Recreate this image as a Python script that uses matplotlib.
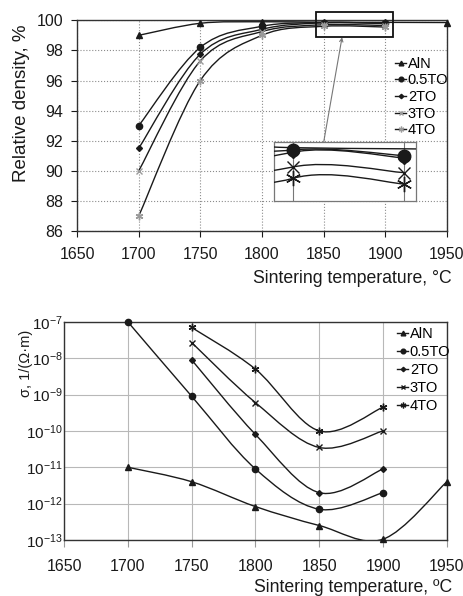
import numpy as np
import matplotlib
matplotlib.use("Agg")
import matplotlib.pyplot as plt
from matplotlib.path import Path
from matplotlib.patches import PathPatch, Rectangle, ConnectionPatch
from matplotlib.lines import Line2D
from matplotlib.ticker import FixedLocator, LogFormatterMathtext

plt.rcParams['font.family'] = ['Liberation Sans', 'DejaVu Sans']
plt.rcParams['mathtext.default'] = 'regular'

# ---- data: relative density (top) ----
temps_den = {
    'AlN': [1700, 1750, 1800, 1850, 1900, 1950],
    '0.5TO': [1700, 1750, 1800, 1850, 1900],
    '2TO': [1700, 1750, 1800, 1850, 1900],
    '3TO': [1700, 1750, 1800, 1850, 1900],
    '4TO': [1700, 1750, 1800, 1850, 1900],
}
density = {
    'AlN': [99.0, 99.8, 99.9, 99.87, 99.86, 99.85],
    '0.5TO': [93.0, 98.2, 99.6, 99.85, 99.80],
    '2TO': [91.5, 97.75, 99.4, 99.83, 99.78],
    '3TO': [90.0, 97.3, 99.25, 99.70, 99.65],
    '4TO': [87.0, 96.0, 99.0, 99.60, 99.55],
}

# ---- data: conductivity (bottom) ----
temps_sig = {
    'AlN': [1700, 1750, 1800, 1850, 1900, 1950],
    '0.5TO': [1700, 1750, 1800, 1850, 1900],
    '2TO': [1750, 1800, 1850, 1900],
    '3TO': [1750, 1800, 1850, 1900],
    '4TO': [1750, 1800, 1850, 1900],
}
sigma = {
    'AlN': [1.0e-11, 4.0e-12, 8.3e-13, 2.5e-13, 1.05e-13, 4.0e-12],
    '0.5TO': [1.0e-7, 9.0e-10, 9.0e-12, 7.0e-13, 2.0e-12],
    '2TO': [9.0e-9, 8.0e-11, 2.0e-12, 9.0e-12],
    '3TO': [2.7e-8, 6.0e-10, 3.5e-11, 1.0e-10],
    '4TO': [7.0e-8, 5.0e-9, 1.0e-10, 4.5e-10],
}

series = ['AlN', '0.5TO', '2TO', '3TO', '4TO']
markers = {'AlN': '^', '0.5TO': 'o', '2TO': 'D', '3TO': 'x', '4TO': (6, 2, 0)}
msizes = {'AlN': 4.5, '0.5TO': 4.5, '2TO': 3, '3TO': 4.5, '4TO': 5.5}
line_c = '#1a1a1a'
grid_c = '#8c8c8c'
text_c = '#1a1a1a'


def smooth_path(x, y, logy=False):
    # Excel-like smoothed line: cubic bezier through the points
    x = np.asarray(x, float)
    y = np.asarray(y, float)
    if logy:
        y = np.log10(y)
    n = len(x)
    verts = [(x[0], y[0])]
    codes = [Path.MOVETO]
    for i in range(n - 1):
        xm, ym = (x[i - 1], y[i - 1]) if i > 0 else (x[i], y[i])
        xp, yp = (x[i + 2], y[i + 2]) if i + 2 < n else (x[i + 1], y[i + 1])
        c1 = (x[i] + (x[i + 1] - xm) / 6, y[i] + (y[i + 1] - ym) / 6)
        c2 = (x[i + 1] - (xp - x[i]) / 6, y[i + 1] - (yp - y[i]) / 6)
        verts += [c1, c2, (x[i + 1], y[i + 1])]
        codes += [Path.CURVE4] * 3
    verts = np.array(verts)
    if logy:
        verts[:, 1] = 10 ** verts[:, 1]
    return Path(verts, codes)


def style_axes(ax):
    ax.grid(True, color=grid_c, linestyle=':', linewidth=0.8)
    for s in ax.spines.values():
        s.set_color('#333333')
        s.set_linewidth(1.0)
    ax.tick_params(colors=text_c, labelsize=11.5, length=4, width=0.8)


fig = plt.figure(figsize=(4.64, 5.96), dpi=100)

# ---------- top: relative density ----------
ax1 = fig.add_axes([0.166, 0.612, 0.797, 0.354])
mcol_top = {'AlN': line_c, '0.5TO': line_c, '2TO': line_c, '3TO': '#9a9a9a', '4TO': '#9a9a9a'}
for s in series:
    ax1.add_patch(PathPatch(smooth_path(temps_den[s], density[s]), fill=False,
                            edgecolor=line_c, lw=1.0, zorder=3))
    ax1.plot(temps_den[s], density[s], ls='none', marker=markers[s], ms=msizes[s],
             color=mcol_top[s], mew=1.0, zorder=4, clip_on=False)
ax1.set_xlim(1650, 1950)
ax1.set_ylim(86, 100)
ax1.set_xticks(np.arange(1650, 1951, 50))
ax1.set_yticks(np.arange(86, 101, 2))
style_axes(ax1)
ax1.tick_params(axis='x', pad=7)
ax1.tick_params(axis='y', pad=6)
ax1.set_xlabel('Sintering temperature, °C', fontsize=12.7, color=text_c, loc='right', labelpad=6)
ax1.xaxis.label.set_x(1.013)
ax1.set_ylabel('Relative density, %', fontsize=13.5, color=text_c)
ax1.yaxis.set_label_coords(-0.127, 0.607)
h1 = [Line2D([], [], color=line_c, lw=1.0, marker=markers[s], ms=msizes[s] * 0.75,
             markerfacecolor=mcol_top[s], markeredgecolor=mcol_top[s]) for s in series]
ax1.legend(h1, series, loc='upper left', bbox_to_anchor=(386 / 464, 1 - 48 / 596),
           bbox_transform=fig.transFigure, frameon=False, fontsize=10.5,
           handlelength=0.8, handletextpad=0.1, labelspacing=0.18, borderpad=0.1)

# zoom rectangle + inset
rect_x0, rect_x1, rect_y0, rect_y1 = 1844, 1906, 98.87, 100.53
ax1.add_patch(Rectangle((rect_x0, rect_y0), rect_x1 - rect_x0, rect_y1 - rect_y0,
                        fill=False, edgecolor='#111111', lw=1.3, clip_on=False, zorder=5))
axin = fig.add_axes([274 / 464, 1 - 201 / 596, 142 / 464, 59 / 596])
for s in series:
    axin.add_patch(PathPatch(smooth_path(temps_den[s], density[s]), fill=False,
                             edgecolor=line_c, lw=1.0, zorder=3))
    if s != 'AlN':
        axin.plot(temps_den[s], density[s], ls='none', marker=markers[s],
                  ms=msizes[s] * 2.0, color=line_c, mew=1.0, zorder=4)
axin.set_xlim(1841.4, 1905.4)
axin.set_ylim(99.40, 99.92)
axin.set_xticks([1850, 1900])
axin.set_yticks([])
axin.tick_params(length=0, labelbottom=False)
axin.grid(True, axis='x', color='#777777', lw=0.8)
for sp in axin.spines.values():
    sp.set_color('#777777')
    sp.set_linewidth(0.9)
con = ConnectionPatch(xyA=(0.35, 1.0), coordsA=axin.transAxes,
                      xyB=(1865, rect_y0), coordsB=ax1.transData,
                      color='#777777', lw=0.8, arrowstyle='->', mutation_scale=6)
fig.add_artist(con)

# ---------- bottom: conductivity ----------
ax2 = fig.add_axes([0.138, 0.094, 0.825, 0.366])
for s in series:
    ax2.add_patch(PathPatch(smooth_path(temps_sig[s], sigma[s], logy=True), fill=False,
                            edgecolor=line_c, lw=1.0, zorder=3))
    ax2.plot(temps_sig[s], sigma[s], ls='none', marker=markers[s], ms=msizes[s],
             color=line_c, mew=1.0, zorder=4, clip_on=False)
ax2.set_yscale('log')
ax2.set_xlim(1650, 1950)
ax2.set_ylim(1e-13, 1e-7)
ax2.set_xticks(np.arange(1650, 1951, 50))
ax2.yaxis.set_major_locator(FixedLocator([10.0 ** k for k in range(-13, -6)]))
ax2.yaxis.set_major_formatter(LogFormatterMathtext())
ax2.yaxis.set_minor_locator(FixedLocator([]))
style_axes(ax2)
ax2.grid(True, color='#b8b8b8', linestyle='-', linewidth=0.8)
ax2.tick_params(axis='y', length=0, pad=1, labelsize=11)
ax2.tick_params(axis='x', pad=9, length=5, color='#999999')
ax2.set_xlabel('Sintering temperature, ºC', fontsize=12.7, color=text_c, loc='right', labelpad=3)
ax2.xaxis.label.set_x(1.013)
ax2.set_ylabel('σ, 1/(Ω·m)', fontsize=10.5, color=text_c, loc='top')
ax2.yaxis.set_label_coords(-0.081, 0.963)
h2 = [Line2D([], [], color=line_c, lw=1.0, marker=markers[s], ms=msizes[s] * 0.75)
      for s in series]
ax2.legend(h2, series, loc='upper left', bbox_to_anchor=(388 / 464, 1 - 318 / 596),
           bbox_transform=fig.transFigure, frameon=False, fontsize=10.5,
           handlelength=0.8, handletextpad=0.1, labelspacing=0.28, borderpad=0.1)

fig.savefig('out.png', dpi=100)
